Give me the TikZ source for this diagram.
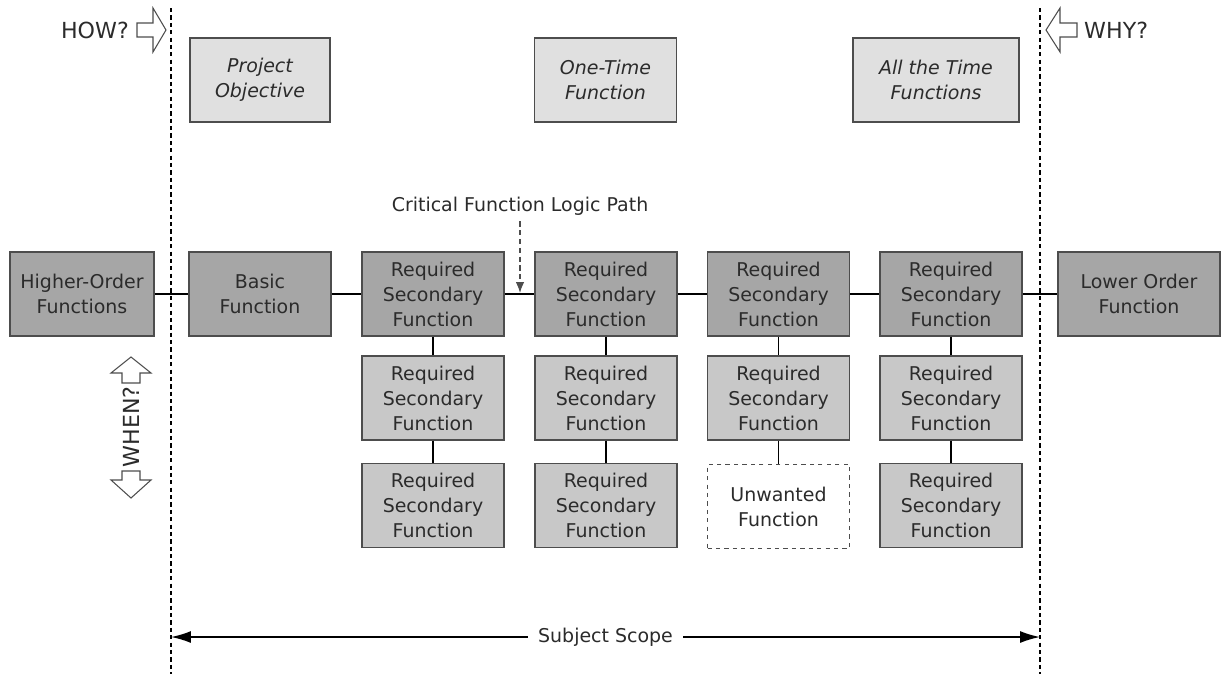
\documentclass[tikz,border=0pt]{standalone}
\usepackage{fontspec}
\setmainfont{DejaVu Sans}
\usepackage{tikz}
\usetikzlibrary{arrows.meta}

\definecolor{fnDark}{HTML}{A6A6A6}
\definecolor{fnMid}{HTML}{C8C8C8}
\definecolor{fnLight}{HTML}{E0E0E0}
\definecolor{edgegray}{HTML}{4D4D4D}
\definecolor{ink}{HTML}{2B2B2B}

\tikzset{
  fn/.style={draw=edgegray, line width=0.7pt, text=ink, align=center,
    minimum width=2.84cm, minimum height=1.68cm, inner sep=0pt,
    font=\fontsize{10.8}{14.2}\selectfont},
  fnmain/.style={fn, fill=fnDark},
  fnsub/.style={fn, fill=fnMid},
  fntop/.style={fn, fill=fnLight, font=\fontsize{10.8}{14.2}\selectfont\itshape},
  fnbad/.style={fn, dash pattern=on 2.4pt off 2.4pt, fill=white},
  link/.style={line width=1.1pt},
  border/.style={dash pattern=on 2.4pt off 1.8pt, line width=0.8pt},
  blockarrow/.style={draw=edgegray, line width=0.6pt, fill=white},
  ask/.style={text=ink, font=\fontsize{12.6}{14}\selectfont},
  caption/.style={text=ink, font=\fontsize{10.8}{14.2}\selectfont}
}

\begin{document}
\begin{tikzpicture}[x=0.02cm,y=-0.02cm]
  \useasboundingbox (0,0) rectangle (1223,674);

  % subject scope borders
  \draw[border] (171,8) -- (171,674);
  \draw[border] (1040,8) -- (1040,674);

  % how / why / when
  \draw[blockarrow] (137,23) -- (153,23) -- (153,8) -- (166,30) -- (153,52) -- (153,37) -- (137,37) -- cycle;
  \node[ask, anchor=east] (how) at (135,30) {HOW?};
  \draw[blockarrow] (1077,23) -- (1060,23) -- (1060,8) -- (1046,30) -- (1060,52) -- (1060,37) -- (1077,37) -- cycle;
  \node[ask, anchor=west] (why) at (1078,30) {WHY?};
  \draw[blockarrow] (131,357) -- (151,373) -- (140,373) -- (140,383) -- (122,383) -- (122,373) -- (111,373) -- cycle;
  \draw[blockarrow] (122,471) -- (140,471) -- (140,480) -- (151,480) -- (131,498) -- (111,480) -- (122,480) -- cycle;
  \node[ask, rotate=90] (when) at (131,427) {WHEN?};

  % top boxes
  \node[fntop, minimum width=2.8cm] (proj) at (260,80) {Project\\Objective};
  \node[fntop] (once) at (605.5,80) {One-Time\\Function};
  \node[fntop, minimum width=3.32cm] (always) at (936,80) {All the Time\\Functions};

  % main row
  \node[fnmain, minimum width=2.88cm] (higher) at (82,294) {Higher-Order\\Functions};
  \node[fnmain] (basic) at (260,294) {Basic\\Function};
  \node[fnmain] (r1) at (433,294) {Required\\Secondary\\Function};
  \node[fnmain] (r2) at (606,294) {Required\\Secondary\\Function};
  \node[fnmain] (r3) at (778.5,294) {Required\\Secondary\\Function};
  \node[fnmain] (r4) at (951,294) {Required\\Secondary\\Function};
  \node[fnmain, minimum width=3.24cm] (lower) at (1139,294) {Lower Order\\Function};

  % columns below
  \node[fnsub] (r1b) at (433,398) {Required\\Secondary\\Function};
  \node[fnsub] (r1c) at (433,505.5) {Required\\Secondary\\Function};
  \node[fnsub] (r2b) at (606,398) {Required\\Secondary\\Function};
  \node[fnsub] (r2c) at (606,505.5) {Required\\Secondary\\Function};
  \node[fnsub] (r3b) at (778.5,398) {Required\\Secondary\\Function};
  \node[fnbad] (unwanted) at (778.5,506.5) {Unwanted\\Function};
  \node[fnsub] (r4b) at (951,398) {Required\\Secondary\\Function};
  \node[fnsub] (r4c) at (951,505.5) {Required\\Secondary\\Function};

  \draw[link] (higher) -- (basic);
  \draw[link] (basic) -- (r1);
  \draw[link] (r1) -- (r2);
  \draw[link] (r2) -- (r3);
  \draw[link] (r3) -- (r4);
  \draw[link] (r4) -- (lower);
  \draw[link] (r1) -- (r1b);
  \draw[link] (r1b) -- (r1c);
  \draw[link] (r2) -- (r2b);
  \draw[link] (r2b) -- (r2c);
  \draw[link] (r3) -- (r3b);
  \draw[link] (r3b) -- (unwanted);
  \draw[link] (r4) -- (r4b);
  \draw[link] (r4b) -- (r4c);

  % critical path marker
  \node[caption] (critical) at (520,206) {Critical Function Logic Path};
  \coordinate (critend) at (520,293);
  \draw[edgegray, line width=0.7pt, dash pattern=on 3pt off 2pt, -{Latex[length=2.2mm,width=1.7mm]}] (critical) -- (critend);

  % subject scope
  \coordinate (scopeL) at (171,637);
  \coordinate (scopeR) at (1040,637);
  \draw[line width=0.9pt, {Latex[length=4mm,width=2.4mm]}-{Latex[length=4mm,width=2.4mm]}] (scopeL) -- node[caption, fill=white, inner xsep=6pt] (subject) {Subject Scope} (scopeR);
\end{tikzpicture}
\end{document}
